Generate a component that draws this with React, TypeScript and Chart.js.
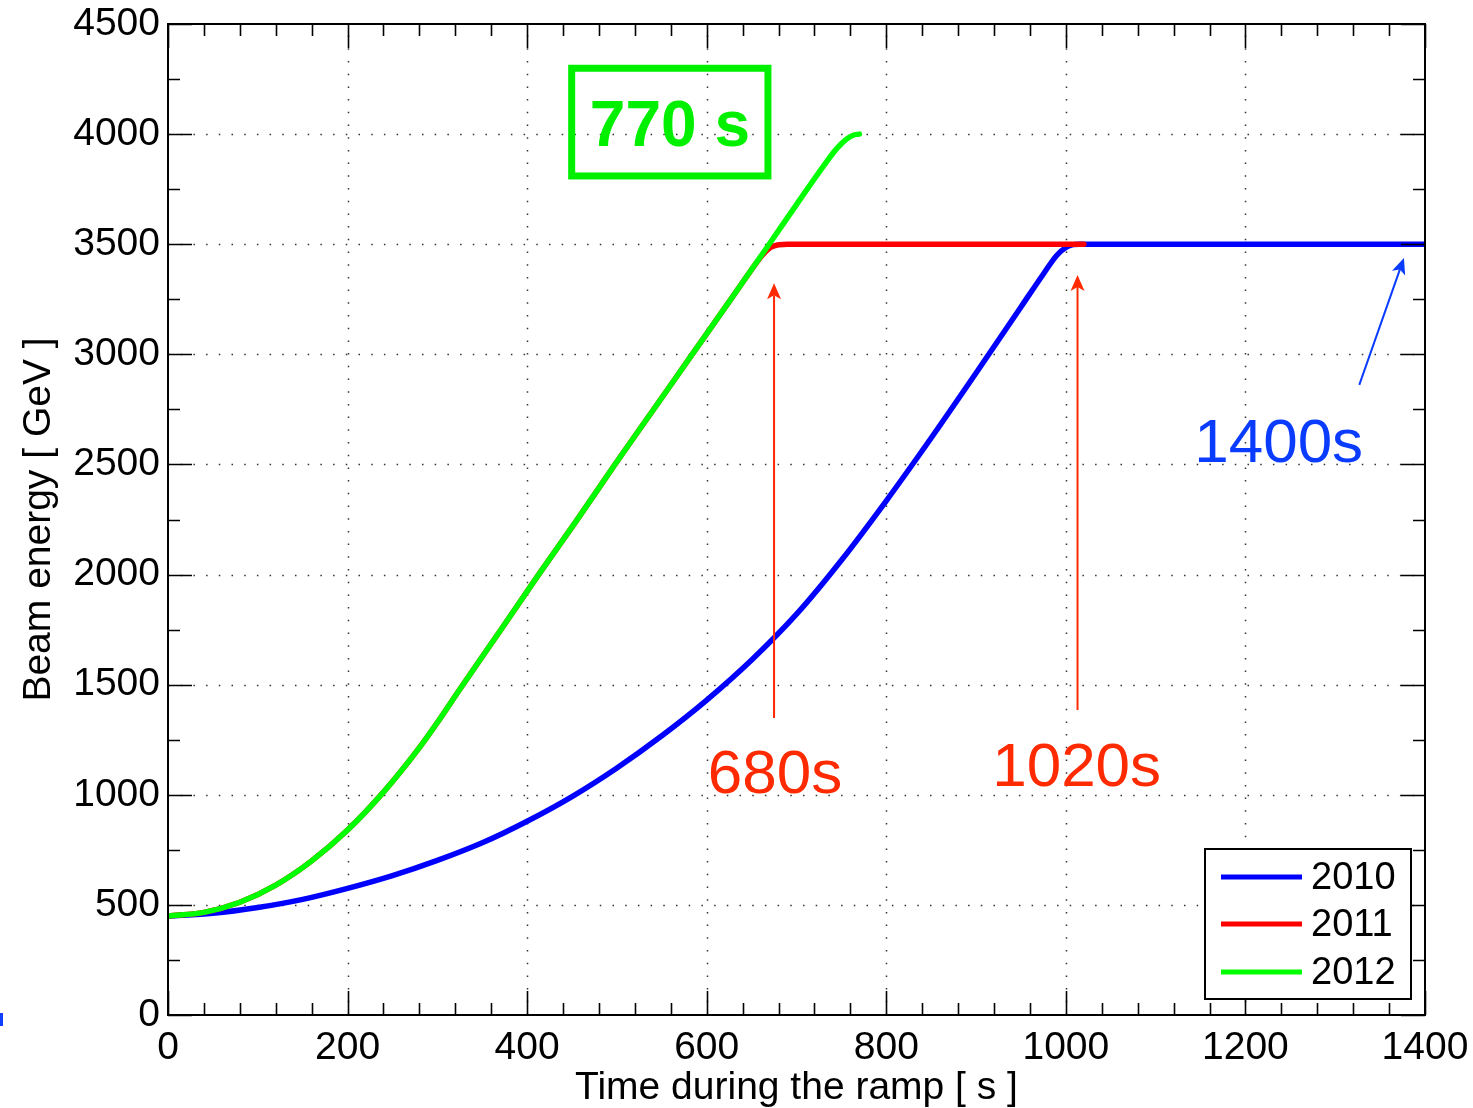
import React, { useEffect, useRef } from 'react';
import { Chart, registerables } from 'chart.js';

Chart.register(...registerables);

// ---- Data ----
const SERIES_LABELS = ['2010', '2011', '2012'];

const T_2010 = [0, 50, 100, 150, 200, 250, 300, 350, 400, 450, 500, 550, 600, 650, 700, 750, 800, 850, 900, 950, 975, 990, 1000, 1008, 1015, 1400];
const E_2010 = [450, 462, 488, 525, 575, 633, 702, 782, 880, 992, 1122, 1268, 1430, 1612, 1820, 2065, 2335, 2620, 2915, 3215, 3365, 3450, 3485, 3498, 3500, 3500];

const T_2011 = [0, 40, 80, 120, 160, 200, 240, 280, 300, 326, 370, 412, 455, 497, 540, 583, 626, 650, 662, 671, 680, 690, 1020];
const E_2011 = [450, 466, 512, 590, 700, 840, 1012, 1214, 1328, 1485, 1745, 1995, 2245, 2495, 2745, 2995, 3245, 3385, 3450, 3485, 3498, 3500, 3500];

const T_2012 = [0, 40, 80, 120, 160, 200, 240, 280, 300, 326, 370, 412, 455, 497, 540, 583, 626, 667, 700, 730, 745, 755, 763, 770];
const E_2012 = [450, 466, 512, 590, 700, 840, 1012, 1214, 1328, 1485, 1745, 1995, 2245, 2495, 2745, 2995, 3245, 3485, 3680, 3855, 3935, 3975, 3995, 4000];

const X_TICKS = [0, 200, 400, 600, 800, 1000, 1200, 1400];
const Y_TICKS = [0, 500, 1000, 1500, 2000, 2500, 3000, 3500, 4000, 4500];
const X_MINOR_STEP = 40;
const Y_MINOR_STEP = 250;

// annotations (data coordinates)
const RED_ARROWS_T = [675, 1013];
const RED_ARROWS_FROM_E = [1349, 1385];
const RED_ARROWS_TO_E = [3323, 3360];
const RED_LABELS = ['680s', '1020s'];
const RED_LABEL_T = [676, 1012];
const RED_LABEL_E = [1008, 1040];
const BLUE_ARROW_T = [1326.8, 1376.5];
const BLUE_ARROW_E = [2861, 3437];
const BLUE_LABEL = '1400s';
const BLUE_LABEL_T = 1237;
const BLUE_LABEL_E = 2511;
const GREEN_LABEL = '770 s';
const GREEN_LABEL_T = 559;
const GREEN_LABEL_E = 3946;
const GREEN_BOX_T = [449.6, 668.2];
const GREEN_BOX_E = [3810, 4299];

const FONT = '"Liberation Sans", Arial, Helvetica, sans-serif';
const COLORS = ['#0000ff', '#ff0000', '#00ff00'];

function drawArrow(ctx: CanvasRenderingContext2D, x1: number, y1: number, x2: number, y2: number, color: string) {
  const ang = Math.atan2(y2 - y1, x2 - x1);
  const len = 16, half = 7, notch = 4;
  const c = Math.cos(ang), s = Math.sin(ang);
  ctx.strokeStyle = color;
  ctx.fillStyle = color;
  ctx.lineWidth = 2;
  ctx.setLineDash([]);
  ctx.beginPath();
  ctx.moveTo(x1, y1);
  ctx.lineTo(x2 - c * (len - notch), y2 - s * (len - notch));
  ctx.stroke();
  const bx = x2 - c * len, by = y2 - s * len;
  ctx.beginPath();
  ctx.moveTo(x2, y2);
  ctx.lineTo(bx + s * half, by - c * half);
  ctx.lineTo(x2 - c * (len - notch), y2 - s * (len - notch));
  ctx.lineTo(bx - s * half, by + c * half);
  ctx.closePath();
  ctx.fill();
}

const decorPlugin = {
  id: 'decor',
  beforeDatasetsDraw(chart: any) {
    const { ctx, chartArea: a, scales } = chart;
    const x = scales.x, y = scales.y;
    ctx.save();
    ctx.strokeStyle = '#333';
    ctx.lineWidth = 1.5;
    ctx.setLineDash([1.5, 11.2]);
    for (const v of X_TICKS) {
      const px = Math.round(x.getPixelForValue(v)) + 0.5;
      if (px <= a.left + 2 || px >= a.right - 2) continue;
      ctx.beginPath();
      ctx.moveTo(px, a.bottom);
      ctx.lineTo(px, a.top);
      ctx.stroke();
    }
    for (const v of Y_TICKS) {
      const py = Math.round(y.getPixelForValue(v)) + 0.5;
      if (py <= a.top + 2 || py >= a.bottom - 2) continue;
      ctx.beginPath();
      ctx.moveTo(a.left, py);
      ctx.lineTo(a.right, py);
      ctx.stroke();
    }
    ctx.restore();
  },
  afterDatasetsDraw(chart: any) {
    const { ctx, chartArea: a, scales } = chart;
    const x = scales.x, y = scales.y;
    ctx.save();
    ctx.setLineDash([]);
    // ticks (inward, all four sides)
    ctx.strokeStyle = '#000';
    ctx.lineWidth = 1.6;
    const xMax = X_TICKS[X_TICKS.length - 1];
    const yMax = Y_TICKS[Y_TICKS.length - 1];
    for (let v = 0; v <= xMax; v += X_MINOR_STEP) {
      const major = X_TICKS.includes(v);
      const L = major ? 24 : 12;
      const px = Math.round(x.getPixelForValue(v)) + 0.5;
      ctx.beginPath();
      ctx.moveTo(px, a.bottom); ctx.lineTo(px, a.bottom - L);
      ctx.moveTo(px, a.top); ctx.lineTo(px, a.top + L);
      ctx.stroke();
    }
    for (let v = 0; v <= yMax; v += Y_MINOR_STEP) {
      const major = Y_TICKS.includes(v);
      const L = major ? 24 : 12;
      const py = Math.round(y.getPixelForValue(v)) + 0.5;
      ctx.beginPath();
      ctx.moveTo(a.left, py); ctx.lineTo(a.left + L, py);
      ctx.moveTo(a.right, py); ctx.lineTo(a.right - L, py);
      ctx.stroke();
    }
    // frame
    ctx.lineWidth = 2;
    ctx.strokeRect(a.left, a.top, a.right - a.left, a.bottom - a.top);

    // red arrows and labels
    const red = '#ff2a00';
    for (let i = 0; i < RED_ARROWS_T.length; i++) {
      const px = x.getPixelForValue(RED_ARROWS_T[i]);
      drawArrow(ctx, px, y.getPixelForValue(RED_ARROWS_FROM_E[i]), px, y.getPixelForValue(RED_ARROWS_TO_E[i]), red);
      ctx.fillStyle = red;
      ctx.font = `62px ${FONT}`;
      ctx.textAlign = 'center';
      ctx.textBaseline = 'alphabetic';
      ctx.fillText(RED_LABELS[i], x.getPixelForValue(RED_LABEL_T[i]), y.getPixelForValue(RED_LABEL_E[i]));
    }
    // blue arrow and label
    const blue = '#0a3cff';
    drawArrow(ctx, x.getPixelForValue(BLUE_ARROW_T[0]), y.getPixelForValue(BLUE_ARROW_E[0]),
      x.getPixelForValue(BLUE_ARROW_T[1]), y.getPixelForValue(BLUE_ARROW_E[1]), blue);
    ctx.fillStyle = blue;
    ctx.font = `62px ${FONT}`;
    ctx.textAlign = 'center';
    ctx.fillText(BLUE_LABEL, x.getPixelForValue(BLUE_LABEL_T), y.getPixelForValue(BLUE_LABEL_E));

    // green boxed label
    const green = '#00f000';
    ctx.strokeStyle = green;
    ctx.lineWidth = 7;
    const bx1 = x.getPixelForValue(GREEN_BOX_T[0]);
    const bx2 = x.getPixelForValue(GREEN_BOX_T[1]);
    const by1 = y.getPixelForValue(GREEN_BOX_E[1]);
    const by2 = y.getPixelForValue(GREEN_BOX_E[0]);
    ctx.strokeRect(bx1, by1, bx2 - bx1, by2 - by1);
    ctx.fillStyle = green;
    ctx.font = `bold 64px ${FONT}`;
    ctx.fillText(GREEN_LABEL, x.getPixelForValue(GREEN_LABEL_T), y.getPixelForValue(GREEN_LABEL_E));

    // legend
    const lx1 = a.right - 220, ly1 = a.bottom - 166, lx2 = a.right - 14, ly2 = a.bottom - 16;
    ctx.fillStyle = '#fff';
    ctx.fillRect(lx1, ly1, lx2 - lx1, ly2 - ly1);
    ctx.strokeStyle = '#000';
    ctx.lineWidth = 2;
    ctx.strokeRect(lx1, ly1, lx2 - lx1, ly2 - ly1);
    const rows = [28, 75, 123];
    chart.data.datasets.forEach((ds: any, i: number) => {
      const ry = ly1 + rows[i];
      ctx.strokeStyle = ds.borderColor;
      ctx.lineWidth = 5;
      ctx.beginPath();
      ctx.moveTo(lx1 + 16, ry);
      ctx.lineTo(lx1 + 97, ry);
      ctx.stroke();
      ctx.fillStyle = '#000';
      ctx.font = `38px ${FONT}`;
      ctx.textAlign = 'left';
      ctx.textBaseline = 'middle';
      ctx.fillText(ds.label, lx1 + 106, ry + 2);
    });

    // small stray blue mark at bottom-left of the figure
    ctx.fillStyle = '#1040ff';
    ctx.fillRect(a.left - 168, a.bottom - 2, 3, 13);
    ctx.restore();
  },
};

export default function App() {
  const ref = useRef<HTMLCanvasElement | null>(null);
  useEffect(() => {
    document.body.style.margin = '0';
    const canvas = ref.current;
    if (!canvas) return;
    const mk = (ts: number[], es: number[]) => ts.map((t, i) => ({ x: t, y: es[i] }));
    const tickFont = { family: FONT, size: 39 };
    const chart = new Chart(canvas, {
      type: 'line',
      data: {
        datasets: [
          { label: SERIES_LABELS[0], data: mk(T_2010, E_2010), borderColor: COLORS[0], order: 2 },
          { label: SERIES_LABELS[1], data: mk(T_2011, E_2011), borderColor: COLORS[1], order: 1 },
          { label: SERIES_LABELS[2], data: mk(T_2012, E_2012), borderColor: COLORS[2], order: 0 },
        ].map((d) => ({
          ...d,
          backgroundColor: d.borderColor,
          borderWidth: 5.5,
          pointRadius: 0,
          fill: false,
          cubicInterpolationMode: 'monotone' as const,
          borderCapStyle: 'round' as const,
          borderJoinStyle: 'round' as const,
        })),
      },
      options: {
        animation: false,
        responsive: false,
        devicePixelRatio: 1,
        layout: { padding: { left: 0, top: 24, right: 48, bottom: 0 } },
        plugins: { legend: { display: false }, tooltip: { enabled: false } },
        scales: {
          x: {
            type: 'linear',
            min: 0,
            max: 1400,
            afterBuildTicks: (s: any) => { s.ticks = X_TICKS.map((v) => ({ value: v })); },
            ticks: { font: tickFont, color: '#000', padding: 10, maxRotation: 0, autoSkip: false, callback: (v: any) => String(v) },
            grid: { display: false, drawTicks: false },
            border: { display: false },
            title: { display: true, text: 'Time during the ramp [ s ]', font: tickFont, color: '#000', padding: { top: 0, bottom: -4 } },
            afterFit: (s: any) => { s.height = 93; s.paddingLeft = 0; s.paddingRight = 0; },
          },
          y: {
            type: 'linear',
            min: 0,
            max: 4500,
            afterBuildTicks: (s: any) => { s.ticks = Y_TICKS.map((v) => ({ value: v })); },
            ticks: { font: tickFont, color: '#000', padding: 8, autoSkip: false, callback: (v: any) => String(v) },
            grid: { display: false, drawTicks: false },
            border: { display: false },
            title: { display: true, text: 'Beam energy [ GeV ]', font: tickFont, color: '#000', padding: { top: 16, bottom: 0 } },
            afterFit: (s: any) => { s.width = 168; s.paddingTop = 0; s.paddingBottom = 0; },
          },
        },
      },
      plugins: [decorPlugin],
    });
    return () => chart.destroy();
  }, []);
  return (
    <div style={{ width: 1473, height: 1108, position: 'relative', background: '#fff' }}>
      <canvas ref={ref} width={1473} height={1108} style={{ display: 'block' }} />
    </div>
  );
}
